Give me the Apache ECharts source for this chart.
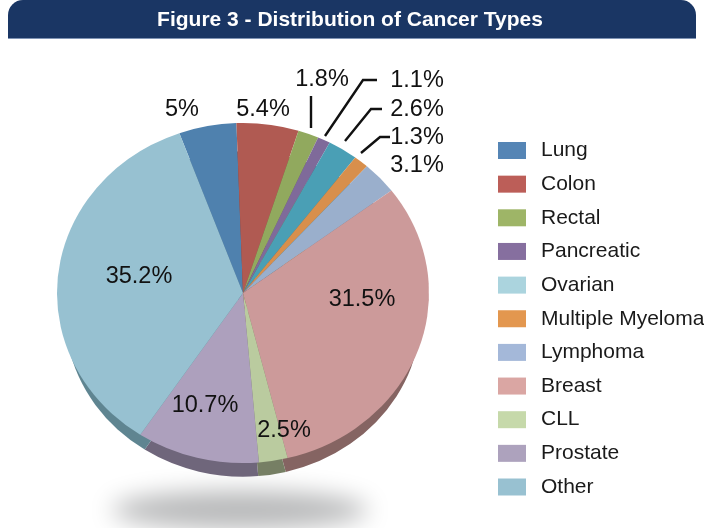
<!DOCTYPE html>
<html><head><meta charset="utf-8">
<style>html,body{margin:0;padding:0;background:#fff}#c{width:704px;height:528px}</style>
<script src="https://cdn.jsdelivr.net/npm/echarts@6/dist/echarts.min.js"></script>
</head><body><div id="c"></div>
<script>
const titleText = 'Figure 3 - Distribution of Cancer Types';
const categories = ['Lung','Colon','Rectal','Pancreatic','Ovarian','Multiple Myeloma','Lymphoma','Breast','CLL','Prostate','Other'];
const shares = [5,5.4,1.8,1.1,2.6,1.3,3.1,31.5,2.5,10.7,35.2];
const sliceColors = ['#4f81ae','#b05a52','#91a95e','#7f6a9a','#4a9fb5','#d88f4c','#9aafcc','#cc9a9a','#bacb9f','#ada0bd','#97c1d1'];
const legendColors = ['#5585b5','#bc5e58','#9eb567','#866f9f','#abd4de','#e3974f','#a4b8d9','#daa6a3','#c6d9aa','#ada2bd','#98c1d1'];
const wallColors = ['#3a5f80','#80423c','#6b7c45','#5d4e71','#367585','#9e6938','#717f95','#856462','#767f64','#6f667b','#5f8591'];

const labelAnchors = {
  Lung:[182,110],Colon:[263,110],Rectal:[322,80],Pancreatic:[417,81],Ovarian:[417,110],
  'Multiple Myeloma':[417,138],Lymphoma:[417,166],Breast:[362,300],CLL:[284,431],Prostate:[205,406],Other:[139,277]
};
const leaders = [
  [[311,96],[311,128]],
  [[325,136],[363,80],[377,80]],
  [[345,141],[371,109],[382,109]],
  [[361,153],[380,137],[390,137]]
];
const cx = 243, faceCy = 293, faceR = 186, wallCy = 314, wallR = 178, squash = 0.914;

const chart = echarts.init(document.getElementById('c'), null, {renderer:'canvas'});
const sliceData = colors => categories.map((name,i)=>({name,value:shares[i],itemStyle:{color:colors[i]}}));
const pieBase = {type:'pie',silent:true,animation:false,startAngle:110,clockwise:true,avoidLabelOverlap:false,
  labelLine:{show:false},emphasis:{disabled:true}};
chart.setOption({
  animation:false,
  backgroundColor:'#fff',
  legend:{orient:'vertical',left:493,top:135,itemWidth:28,itemHeight:17,itemGap:12.65,selectedMode:false,
    icon:'rect',
    textStyle:{fontFamily:'Liberation Sans',fontSize:21,color:'#1a1a1a',padding:[0,0,0,10]},
    data:categories.map((name,i)=>({name,itemStyle:{color:legendColors[i]}}))},
  graphic:[
    {type:'ellipse',z:-5,silent:true,shape:{cx:-760,cy:510,rx:128,ry:19},
      style:{fill:'#b8b9ba',shadowBlur:24,shadowColor:'#b8b9ba',shadowOffsetX:1000}},
    {type:'rect',z:1,silent:true,shape:{x:8,y:0,width:688,height:38,r:[15,15,0,0]},style:{fill:'#1a3664'}},
    {type:'rect',z:1,silent:true,shape:{x:8,y:38,width:688,height:1},style:{fill:'#7f93b4'}},
    {type:'text',z:2,silent:true,x:350,y:20,style:{text:titleText,fill:'#fff',align:'center',verticalAlign:'middle',
      font:'bold 21px "Liberation Sans"'}},
    ...leaders.map(points=>({type:'polyline',z:6,silent:true,shape:{points},style:{stroke:'#111',lineWidth:2.4,fill:null}}))
  ],
  series:[
    {...pieBase,name:'wall',z:2,center:[cx,wallCy],radius:[0,wallR],label:{show:false},data:sliceData(wallColors)},
    {...pieBase,name:'face',z:3,center:[cx,faceCy],radius:[0,faceR],data:sliceData(sliceColors),
      label:{show:true,position:'inside',formatter:'{c}%',fontFamily:'Liberation Sans',fontSize:23.5,color:'#111'},
      labelLayout:p=>{const a=labelAnchors[categories[p.dataIndex]];return {x:a[0],y:a[1],align:'center',verticalAlign:'middle'};}}
  ]
});

function squashPie(){
  const list = chart.getZr().storage.getDisplayList(true,true);
  list.forEach(el=>{
    if(el.type==='sector' && el.shape.r>100){
      el.originX = el.shape.cx; el.originY = el.shape.cy;
      el.scaleY = squash; el.dirty();
    }
  });
  chart.getZr().refresh();
}
squashPie();
</script></body></html>
